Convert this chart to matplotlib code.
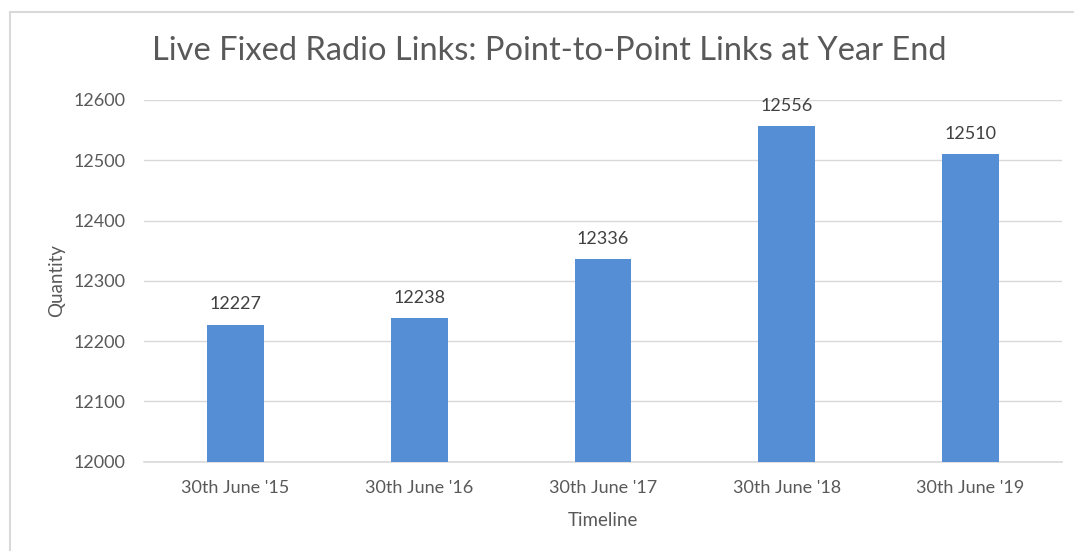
import matplotlib.pyplot as plt
from matplotlib.patches import Rectangle

# data
dates = ["30th June '15", "30th June '16", "30th June '17", "30th June '18", "30th June '19"]
links = [12227, 12238, 12336, 12556, 12510]

grey = '#595959'
bar_color = '#558ED5'

plt.rcParams['font.family'] = ['Lato', 'DejaVu Sans']

fig = plt.figure(figsize=(10.74, 5.51), dpi=100)
ax = fig.add_axes([0.1337, 0.162, 0.8555, 0.6566])

# light frame round the chart, like the spreadsheet chart area
fig.patches.append(Rectangle((10/1074, -0.05), 1.2, 1 - 12/551 + 0.05,
                             transform=fig.transFigure, fill=False,
                             edgecolor='#D9D9D9', linewidth=1.5))

xpos = range(len(dates))
bars = ax.bar(xpos, links, width=0.31, color=bar_color, zorder=3)

for x, y in zip(xpos, links):
    ax.annotate(str(y), (x, y), xytext=(0, 9), textcoords='offset points',
                ha='center', va='bottom', fontsize=13, color='#404040')

ax.set_xlim(-0.5, len(dates) - 0.5)
ax.set_ylim(12000, 12600)
ax.set_yticks(range(12000, 12601, 100))
ax.set_xticks(list(xpos))
ax.set_xticklabels(dates)
ax.yaxis.grid(True, color='#D9D9D9', linewidth=1, zorder=0)
ax.set_axisbelow(True)

for side in ['top', 'right', 'left']:
    ax.spines[side].set_visible(False)
ax.spines['bottom'].set_color('#D9D9D9')
ax.spines['bottom'].set_linewidth(1.2)
ax.tick_params(axis='both', length=0, labelsize=13, colors=grey)
ax.tick_params(axis='x', pad=13)
ax.tick_params(axis='y', pad=13)

ax.set_xlabel('Timeline', fontsize=13.5, color=grey, labelpad=12)
ax.set_ylabel('Quantity', fontsize=13.5, color=grey, labelpad=6)

fig.text(0.511, 0.908, 'Live Fixed Radio Links: Point-to-Point Links at Year End',
         ha='center', va='center', fontsize=23.5, color=grey)

plt.savefig('out.png', dpi=100)
